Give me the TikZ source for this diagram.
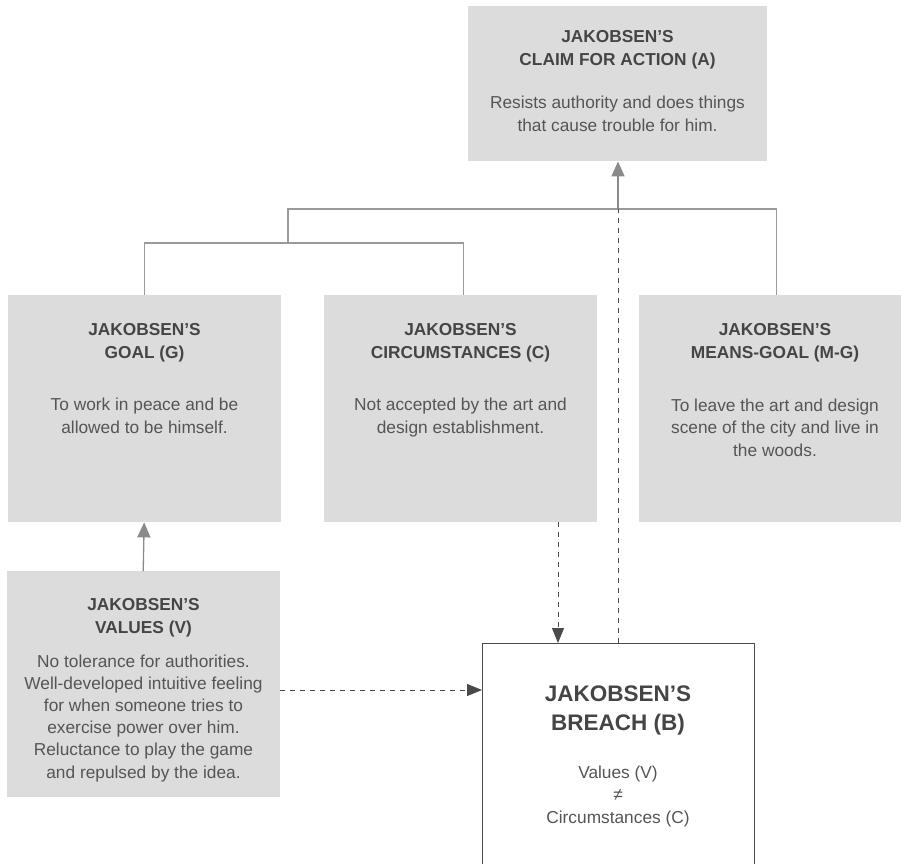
\documentclass[tikz,border=0pt]{standalone}
\usepackage{fontspec}
\setmainfont{Liberation Sans}
\usetikzlibrary{arrows.meta}
\definecolor{boxgray}{HTML}{DCDCDC}
\definecolor{titlecol}{HTML}{454545}
\definecolor{bodycol}{HTML}{555555}
\definecolor{treecol}{HTML}{9A9A9A}
\definecolor{arrowgray}{HTML}{8A8A8A}
\definecolor{dashcol}{HTML}{4A4A4A}
\tikzset{
  graybox/.style={fill=boxgray, draw=none, inner sep=0pt, anchor=north west},
  breachbox/.style={fill=white, draw=dashcol, line width=1pt, inner sep=0pt, anchor=north west},
  titletext/.style={inner sep=0pt, anchor=base, align=center, text=titlecol,
     font=\fontsize{17.3}{23}\selectfont\bfseries},
  bigtitle/.style={inner sep=0pt, anchor=base, align=center, text=titlecol,
     font=\fontsize{22.5}{29}\selectfont\bfseries},
  bodytext/.style={inner sep=0pt, anchor=base, align=center, text=bodycol,
     font=\fontsize{17.3}{22.2}\selectfont},
  treeline/.style={draw=treecol, line width=1.3pt},
  solidarrow/.style={draw=arrowgray, line width=1.3pt, -{Triangle[width=13pt,length=15pt]}},
  dashline/.style={draw=dashcol, line width=1pt, dash pattern=on 5pt off 5pt},
  dasharrow/.style={dashline, -{Triangle[width=12pt,length=15pt]}},
}
\begin{document}
\begin{tikzpicture}[x=1pt,y=-1pt]
\useasboundingbox (0,0) rectangle (901,863);
\clip (0,0) rectangle (901,863);

% boxes
\node[graybox, minimum width=299pt, minimum height=155pt] (A) at (468,6) {};
\node[graybox, minimum width=273pt, minimum height=227pt] (G) at (8,295) {};
\node[graybox, minimum width=273pt, minimum height=227pt] (C) at (324,295) {};
\node[graybox, minimum width=273pt, minimum height=227pt] (M) at (639,295) {};
\node[graybox, minimum width=273pt, minimum height=226pt] (V) at (7,571) {};
\node[breachbox, minimum width=272pt, minimum height=240pt] (B) at (482,643) {};

% texts (anchor base = baseline of last line)
\node[titletext] (At) at (617.5,65) {JAKOBSEN’S\\CLAIM FOR ACTION (A)};
\node[bodytext] (Ab) at (617.5,131) {Resists authority and does things\\that cause trouble for him.};

\node[titletext] (Gt) at (144.5,358) {JAKOBSEN’S\\GOAL (G)};
\node[bodytext] (Gb) at (144.5,433) {To work in peace and be\\allowed to be himself.};

\node[titletext] (Ct) at (460.5,358) {JAKOBSEN’S\\CIRCUMSTANCES (C)};
\node[bodytext] (Cb) at (460.5,433) {Not accepted by the art and\\design establishment.};

\node[titletext] (Mt) at (775,358) {JAKOBSEN’S\\MEANS-GOAL (M-G)};
\node[bodytext] (Mb) at (775,456) {To leave the art and design\\scene of the city and live in\\the woods.};

\node[titletext] (Vt) at (143.5,633) {JAKOBSEN’S\\VALUES (V)};
\node[bodytext] (Vb) at (143.5,778) {No tolerance for authorities.\\Well-developed intuitive feeling\\for when someone tries to\\exercise power over him.\\Reluctance to play the game\\and repulsed by the idea.};

\node[bigtitle] (Bt) at (618,730) {JAKOBSEN’S\\BREACH (B)};
\node[bodytext] (Bb) at (618,823) {Values (V)\\[0.3pt]≠\\[0.3pt]Circumstances (C)};

% connectors
\coordinate (j1) at (288,243);
\coordinate (j2) at (288,209);
\coordinate (j3) at (618,209);
\coordinate (kx) at (558,0);
\coordinate (ky) at (0,690);

\draw[treeline] ([xshift=-0.5pt]G.north) |- (j1) -| ([xshift=2.5pt]C.north);
\draw[treeline] (j1) -- (j2) -| ([xshift=1pt]M.north);
\draw[solidarrow] (j3) -- (A.south -| j3);
\draw[dashline] (B.north -| j3) -- (j3);
\draw[dasharrow] (C.south -| kx) -- (B.north -| kx);
\draw[dasharrow] (V.east |- ky) -- (B.west |- ky);
\draw[solidarrow] ([xshift=-0.5pt]V.north) -- ([xshift=-0.5pt]G.south);
\end{tikzpicture}
\end{document}
